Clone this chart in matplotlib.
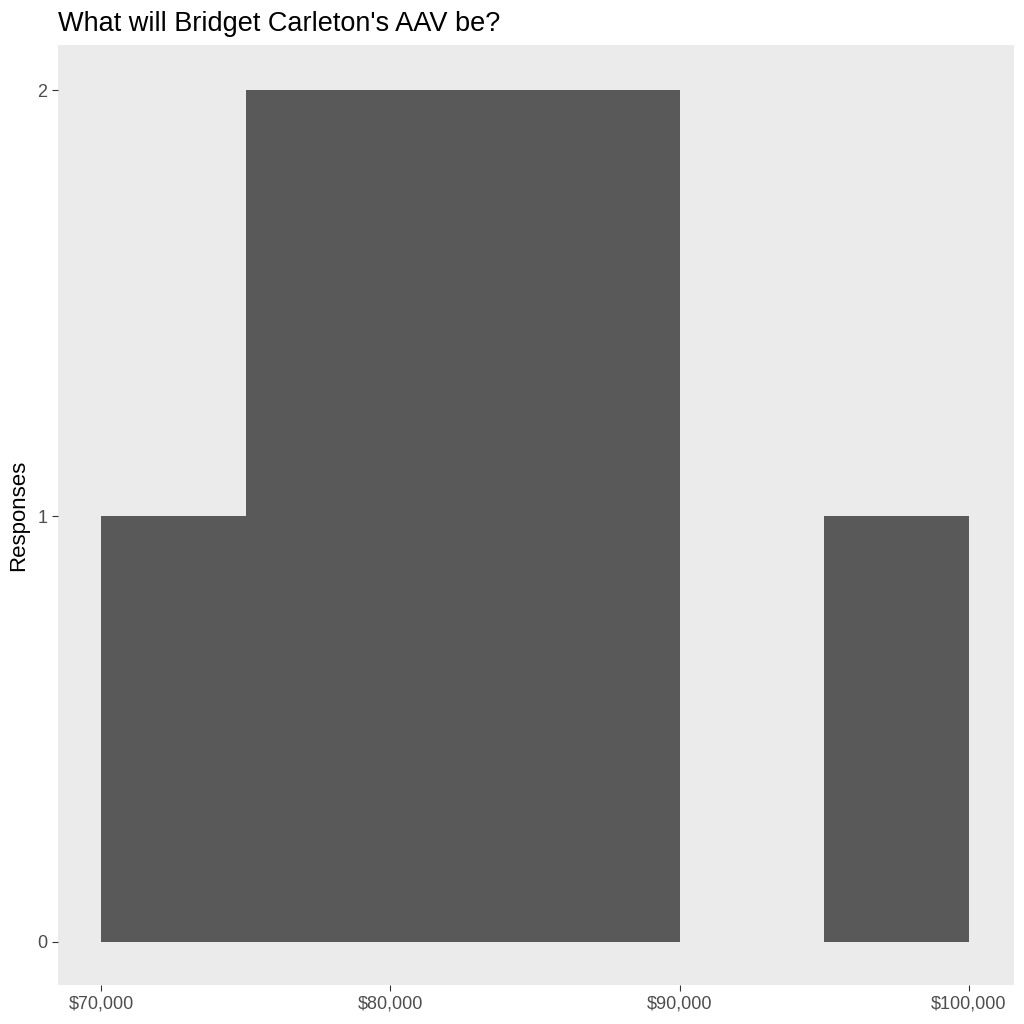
import numpy as np
import matplotlib
matplotlib.use("Agg")
import matplotlib.pyplot as plt
from matplotlib.ticker import FuncFormatter

# histogram bins (left edge, $) and counts
bin_left = [70000, 75000, 80000, 85000, 90000, 95000]
counts = [1, 2, 2, 2, 0, 1]
binwidth = 5000
title = "What will Bridget Carleton's AAV be?"

plt.rcParams["font.family"] = ["Liberation Sans", "DejaVu Sans"]

fig = plt.figure(figsize=(10.24, 10.24), dpi=100)
ax = fig.add_axes([58 / 1024, 1 - 985 / 1024, (1014 - 58) / 1024, (985 - 45) / 1024])
ax.set_facecolor("#EBEBEB")
ax.bar(bin_left, counts, width=binwidth, align="edge", color="#595959", linewidth=0)

ax.set_xlim(68515, 101555)
ax.set_ylim(-0.101, 2.106)
ax.set_xticks([70000, 80000, 90000, 100000])
ax.xaxis.set_major_formatter(FuncFormatter(lambda v, p: "${:,.0f}".format(v)))
ax.set_yticks([0, 1, 2])
for s in ax.spines.values():
    s.set_visible(False)
ax.tick_params(colors="#333333", labelcolor="#4D4D4D", labelsize=13, length=4, width=0.8)
ax.set_ylabel("Responses", fontsize=16, labelpad=6)
ax.set_title(title, fontsize=19.5, loc="left", pad=10)

fig.savefig("out.png", dpi=100)
